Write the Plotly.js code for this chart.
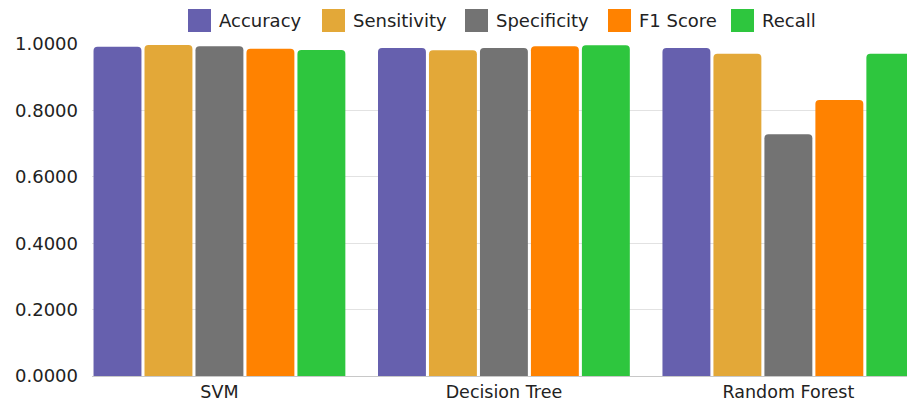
<!DOCTYPE html>
<html>
<head>
<meta charset="utf-8">
<script src="https://cdn.plot.ly/plotly-3.0.1.min.js"></script>
<style>
  html, body { margin: 0; padding: 0; background: #ffffff; }
  #chart { width: 907px; height: 405px; }
</style>
</head>
<body>
<div id="chart"></div>
<script>
// Model comparison: five metrics per classifier
const models = ["SVM", "Decision Tree", "Random Forest"];
const metricNames = ["Accuracy", "Sensitivity", "Specificity", "F1 Score", "Recall"];
const accuracy    = [0.992, 0.988, 0.988];
const sensitivity = [0.997, 0.981, 0.971];
const specificity = [0.993, 0.988, 0.728];
const f1Score     = [0.986, 0.993, 0.831];
const recall      = [0.982, 0.996, 0.971];
const yTickValues = [0, 0.2, 0.4, 0.6, 0.8, 1.0];
const yTickLabels = ["0.0000", "0.2000", "0.4000", "0.6000", "0.8000", "1.0000"];

const seriesValues = [accuracy, sensitivity, specificity, f1Score, recall];
const colors = ["#6660ae", "#e3a838", "#737373", "#ff8200", "#2ec63e"];

const labelFont = "'DejaVu Sans', 'Noto Sans', sans-serif";

const traces = metricNames.map((name, i) => ({
  type: "bar",
  name: name,
  x: models,
  y: seriesValues[i],
  marker: { color: colors[i], cornerradius: 4, line: { width: 0 } },
  hoverinfo: "x+y+name"
}));

// Legend row drawn with shapes + annotations so swatches can be large
const plotLeft = 92, plotWidth = 815, plotBottom = 376, plotHeight = 332;
const legendSwatchX = [188, 322, 465, 608, 731];
const shapes = [];
const annotations = [];
metricNames.forEach((name, i) => {
  shapes.push({
    type: "rect", xref: "paper", yref: "paper",
    x0: (legendSwatchX[i] - plotLeft) / plotWidth,
    x1: (legendSwatchX[i] + 23 - plotLeft) / plotWidth,
    y0: (plotBottom - 32) / plotHeight, y1: (plotBottom - 9) / plotHeight,
    fillcolor: colors[i], line: { width: 0 }
  });
  annotations.push({
    xref: "paper", yref: "paper",
    x: (legendSwatchX[i] + 29 - plotLeft) / plotWidth,
    y: (plotBottom - 20.5) / plotHeight,
    xanchor: "left", yanchor: "middle", showarrow: false,
    text: name, font: { family: labelFont, size: 18, color: "#222222" }
  });
});

const layout = {
  width: 907, height: 405,
  margin: { l: plotLeft, r: 0, t: 44, b: 29, pad: 0 },
  paper_bgcolor: "#ffffff",
  plot_bgcolor: "#ffffff",
  showlegend: false,
  barmode: "group",
  bargap: 0.104,
  bargroupgap: 0.06,
  xaxis: {
    range: [-0.448, 2.417],
    showgrid: false,
    showline: true, linecolor: "#c8c8c8", linewidth: 1,
    ticks: "",
    ticklabelstandoff: 0,
    tickfont: { family: labelFont, size: 17.5, color: "#222222" },
    fixedrange: true
  },
  yaxis: {
    range: [0, 1.0],
    tickvals: yTickValues,
    ticktext: yTickLabels,
    showgrid: true, gridcolor: "#e2e2e2", gridwidth: 1,
    zeroline: false,
    showline: false,
    ticks: "",
    ticklabelstandoff: 13,
    tickfont: { family: labelFont, size: 18, color: "#222222" },
    fixedrange: true
  },
  shapes: shapes,
  annotations: annotations
};

Plotly.newPlot("chart", traces, layout, { displayModeBar: false, staticPlot: true });
</script>
</body>
</html>
